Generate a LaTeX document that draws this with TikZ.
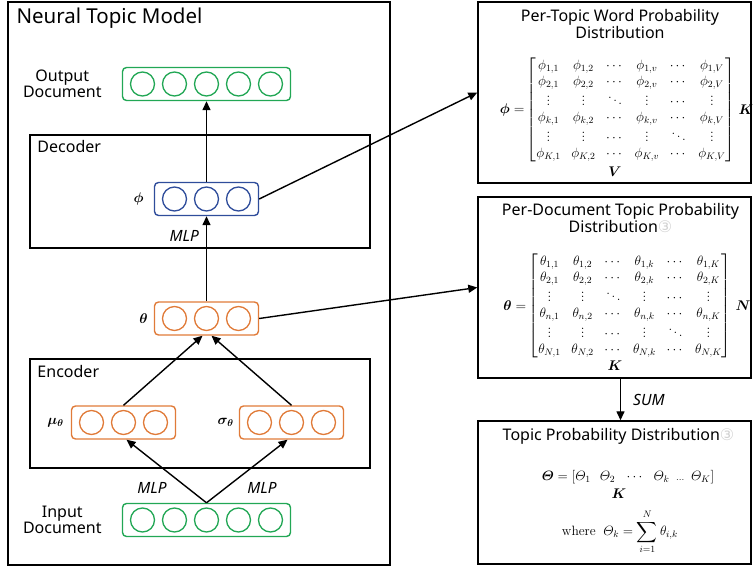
\RequirePackage{fix-cm}
\documentclass[tikz,border=0pt]{standalone}
\usepackage[no-math]{fontspec}
\usepackage{amsmath}
\usepackage{bm}
\usepackage{tikz}
\usetikzlibrary{arrows.meta, positioning, calc}
\newfontfamily\diagfont{Noto Sans}
\newfontfamily\markfont{DejaVu Sans}
\definecolor{layerGreen}{HTML}{22A755}
\definecolor{layerOrange}{HTML}{E07B39}
\definecolor{layerBlue}{HTML}{2F4D9B}

% a rounded layer box holding #4 units
\newcommand{\nnlayer}[5]{%
  \node[layer, draw=#5, minimum width={#4*32+8}] (#1) at (#2,#3) {};
  \foreach \u in {1,...,#4}
    \node[unit, draw=#5] at ($(#1.center)+({(\u-(#4+1)/2)*32},0)$) {};
}

\begin{document}
\begin{tikzpicture}[x=1pt, y=-1pt,
    font=\diagfont\fontsize{16}{16.5}\selectfont,
    frame/.style={draw, line width=1.4pt, inner sep=0pt},
    layer/.style={rounded corners=4pt, line width=1.4pt, minimum height=33pt, inner sep=0pt},
    unit/.style={circle, line width=1.3pt, minimum size=24pt, inner sep=0pt},
    tag/.style={align=center, inner sep=1pt},
    flow/.style={tag, font=\diagfont\itshape\fontsize{15.5}{16}\selectfont},
    sym/.style={inner sep=1pt, font=\fontsize{14}{16}\selectfont},
    mat/.style={inner sep=0pt, font=\fontsize{13.5}{16}\selectfont},
    arrow/.style={-{Triangle[length=9pt, width=8pt]}, line width=1.4pt},
]
    \useasboundingbox (0,0) rectangle (753,569);

    % left: the model
    \node[frame, minimum width=382pt, minimum height=563pt] (ntm) at (199,283.5) {};
    \node[anchor=north west, inner sep=0pt, font=\diagfont\fontsize{20.5}{21}\selectfont]
        at ([shift={(9pt,-6pt)}]ntm.north west) {Neural Topic Model};

    \node[frame, minimum width=340pt, minimum height=113pt] (decoder) at (200,191.5) {};
    \node[tag, anchor=north west] at ([shift={(7pt,-5pt)}]decoder.north west) {Decoder};
    \node[frame, minimum width=340pt, minimum height=109pt] (encoder) at (200,413.5) {};
    \node[tag, anchor=north west] at ([shift={(7pt,-6pt)}]encoder.north west) {Encoder};

    \nnlayer{output}{206.5}{84}{5}{layerGreen}
    \nnlayer{phi}{206.5}{199}{3}{layerBlue}
    \nnlayer{theta}{206.5}{318.5}{3}{layerOrange}
    \nnlayer{mu}{123.5}{422.5}{3}{layerOrange}
    \nnlayer{sigma}{291.5}{422.5}{3}{layerOrange}
    \nnlayer{input}{206.5}{520}{5}{layerGreen}

    \node[tag, left=19pt of output] {Output\\Document};
    \node[tag, left=19pt of input] {Input\\Document};
    \node[sym, left=9pt of phi] {$\bm{\phi}$};
    \node[sym, left=5pt of theta] {$\bm{\theta}$};
    \node[sym, left=6pt of mu] {$\bm{\mu_\theta}$};
    \node[sym, left=4pt of sigma] {$\bm{\sigma_\theta}$};

    \draw[arrow] (input.north) -- ([xshift=3pt]mu.south);
    \draw[arrow] (input.north) -- ([xshift=-4pt]sigma.south);
    \node[flow] at (152,488) {MLP};
    \node[flow] at (262,488) {MLP};
    \draw[arrow] (mu.north) -- ([xshift=-4pt]theta.south);
    \draw[arrow] (sigma.north) -- ([xshift=5pt]theta.south);
    \draw[arrow] (theta.north) -- (phi.south)
        node[pos=0.77, left=6pt, flow] {MLP};
    \draw[arrow] (phi.north) -- (output.south);

    % right: the distributions
    \node[frame, minimum width=273pt, minimum height=181pt] (topicword) at (614.5,92.5) {};
    \node[tag, anchor=north] at ([shift={(5.5pt,-7pt)}]topicword.north)
        {Per-Topic Word Probability\\Distribution};
    \node[mat] (phimat) at (631,110) {\arraycolsep=5.3pt$\left[\begin{matrix}
        \phi_{1,1} & \phi_{1,2} & \cdots & \phi_{1,v} & \cdots & \phi_{1,V}\\
        \phi_{2,1} & \phi_{2,2} & \cdots & \phi_{2,v} & \cdots & \phi_{2,V}\\
        \vdots & \vdots & \ddots & \vdots & \cdots & \vdots\\
        \phi_{k,1} & \phi_{k,2} & \cdots & \phi_{k,v} & \cdots & \phi_{k,V}\\
        \vdots & \vdots & \cdots & \vdots & \ddots & \vdots\\
        \phi_{K,1} & \phi_{K,2} & \cdots & \phi_{K,v} & \cdots & \phi_{K,V}
    \end{matrix}\right]$};
    \node[sym, left=1pt of phimat] (phieq) {$\bm{\phi} =$};
    \node[sym, right=2pt of phimat] (phik) {$\bm{K}$};
    \node[sym, below=3pt of phimat, xshift=-16pt] (phiv) {$\bm{V}$};

    \node[frame, minimum width=273pt, minimum height=181pt] (doctopic) at (614.5,287.5) {};
    \node[tag, anchor=north] at ([shift={(6pt,-6pt)}]doctopic.north)
        {Per-Document Topic Probability\\Distribution{\markfont\color{gray!35}③}};
    \node[mat] (thetamat) at (630,306) {\arraycolsep=5.3pt$\left[\begin{matrix}
        \theta_{1,1} & \theta_{1,2} & \cdots & \theta_{1,k} & \cdots & \theta_{1,K}\\
        \theta_{2,1} & \theta_{2,2} & \cdots & \theta_{2,k} & \cdots & \theta_{2,K}\\
        \vdots & \vdots & \ddots & \vdots & \cdots & \vdots\\
        \theta_{n,1} & \theta_{n,2} & \cdots & \theta_{n,k} & \cdots & \theta_{n,K}\\
        \vdots & \vdots & \cdots & \vdots & \ddots & \vdots\\
        \theta_{N,1} & \theta_{N,2} & \cdots & \theta_{N,k} & \cdots & \theta_{N,K}
    \end{matrix}\right]$};
    \node[sym, left=1pt of thetamat] (thetaeq) {$\bm{\theta} =$};
    \node[sym, right=3pt of thetamat] (thetan) {$\bm{N}$};
    \node[sym, below=1pt of thetamat, xshift=-15pt] (thetak) {$\bm{K}$};

    \node[frame, minimum width=273pt, minimum height=143pt] (topicdist) at (614.5,492.5) {};
    \node[tag, anchor=north] at ([shift={(4pt,-7pt)}]topicdist.north)
        {Topic Probability Distribution{\markfont\color{gray!35}③}};
    \node[mat] (Thetavec) at (628,477)
        {$\bm{\varTheta} = [\varTheta_1 \enspace\, \varTheta_2 \enspace\, \cdots \enspace\, \varTheta_k
         \enspace {\scriptstyle\ldots} \enspace \varTheta_K]$};
    \node[sym, below=4pt of Thetavec, xshift=-9pt] (Thetak) {$\bm{K}$};
    \node[mat] (Thetasum) at (620,532)
        {$\mathrm{where}\;\; \varTheta_k = \displaystyle\sum_{i=1}^{N} \theta_{i,k}$};

    \draw[arrow] (phi.east) -- (topicword.west);
    \draw[arrow] (theta.east) -- (doctopic.west);
    \draw[arrow] ([xshift=6pt]doctopic.south) -- ([xshift=6pt]topicdist.north)
        node[midway, right=11pt, flow] {SUM};
\end{tikzpicture}
\end{document}
